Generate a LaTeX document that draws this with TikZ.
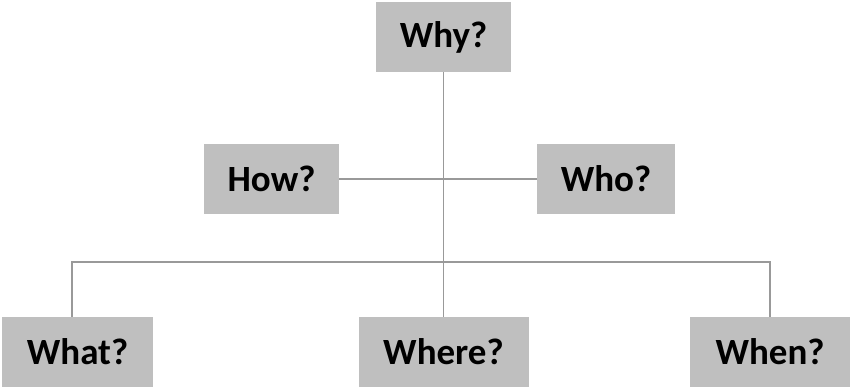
\documentclass[tikz,border=0pt]{standalone}
\usepackage{fontspec}
\setmainfont{Carlito}
\usepackage{tikz}
\usetikzlibrary{positioning}
\definecolor{boxgray}{HTML}{BFBFBF}
\definecolor{linegray}{HTML}{999999}

\begin{document}
\begin{tikzpicture}[x=1pt,y=1pt]
\useasboundingbox (0,0) rectangle (850,387);
\begin{scope}[every node/.style={fill=boxgray,inner sep=0pt,minimum height=70pt,font=\fontsize{37}{40}\selectfont\bfseries}]
\node[minimum width=135pt] (why) at (443.5,350) {Why?};
\node[minimum width=135pt] (how) at (271.5,208) {How?};
\node[minimum width=138pt] (who) at (606,208) {Who?};
\node[minimum width=151pt] (what) at (77.5,35) {What?};
\node[minimum width=170pt] (where) at (443.5,35) {Where?};
\node[minimum width=160pt] (when) at (770,35) {When?};
\end{scope}
\coordinate (bus) at (443.5,125);
\coordinate (whattop) at ([xshift=-5.5pt]what.north);
\draw[linegray,line width=1.2pt] (why.south)--(where.north);
\draw[linegray,line width=1.2pt] (how.east)--(who.west);
\draw[linegray,line width=1.2pt] (whattop) |- (bus) -| (when.north);
\end{tikzpicture}
\end{document}
